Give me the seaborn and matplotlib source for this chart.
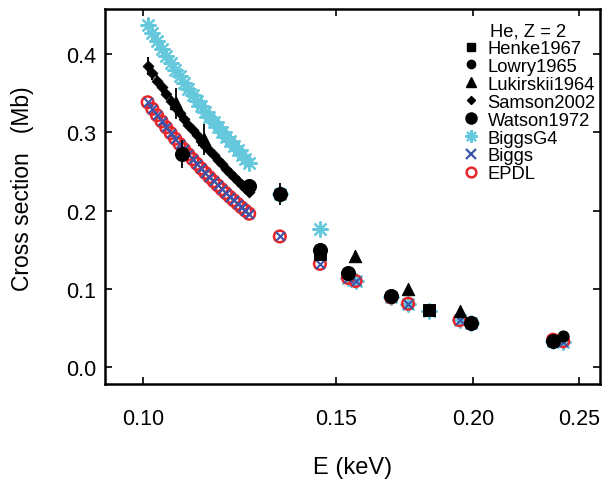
import numpy as np
import pandas as pd
import matplotlib
matplotlib.use("Agg")
import matplotlib.pyplot as plt
from matplotlib.ticker import FixedLocator, NullLocator, FormatStrFormatter
from matplotlib.lines import Line2D
import seaborn as sns

# dense energy grid of the calculated / Samson curves (keV)
e_dense = [0.101, 0.102, 0.103, 0.104, 0.105, 0.106, 0.107, 0.108, 0.109, 0.110,
           0.111, 0.112, 0.113, 0.114, 0.115, 0.116, 0.117, 0.118, 0.119, 0.120,
           0.121, 0.122, 0.123, 0.124, 0.125]

# cross sections (Mb)
epdl_dense = [0.3385, 0.3301, 0.3219, 0.3141, 0.3065, 0.2991, 0.2920, 0.2852, 0.2785, 0.2721,
              0.2658, 0.2598, 0.2539, 0.2483, 0.2428, 0.2375, 0.2323, 0.2273, 0.2224, 0.2177,
              0.2131, 0.2087, 0.2043, 0.2001, 0.1961]
g4_dense = [0.4370, 0.4267, 0.4168, 0.4072, 0.3979, 0.3890, 0.3803, 0.3718, 0.3637, 0.3557,
            0.3481, 0.3406, 0.3334, 0.3264, 0.3196, 0.3130, 0.3066, 0.3004, 0.2943, 0.2884,
            0.2827, 0.2771, 0.2717, 0.2664, 0.2614]
samson = [0.3850, 0.3755, 0.3663, 0.3574, 0.3488, 0.3405, 0.3325, 0.3247, 0.3172, 0.3100,
          0.3029, 0.2961, 0.2895, 0.2831, 0.2769, 0.2708, 0.2650, 0.2593, 0.2538, 0.2484,
          0.2432, 0.2382, 0.2333, 0.2285, 0.2240]
samson_err = [0.012, 0.008, 0.007, 0.007, 0.006, 0.006, 0.006, 0.006, 0.006, 0.006,
              0.006, 0.006, 0.006, 0.006, 0.006, 0.006, 0.006, 0.006, 0.006, 0.006,
              0.006, 0.006, 0.006, 0.006, 0.006]

# discrete energies of the tabulated libraries
e_lib = [0.1333, 0.1450, 0.1538, 0.1563, 0.1684, 0.1745, 0.1824, 0.1944, 0.1992, 0.2366, 0.2417]
epdl_lib = [0.167, 0.132, 0.114, 0.110, 0.089, 0.081, np.nan, 0.060, 0.056, 0.035, 0.033]
biggs_lib = [0.167, 0.132, 0.114, 0.110, 0.089, 0.081, 0.072, 0.060, 0.056, 0.034, 0.032]
g4_lib = [0.221, 0.177, 0.114, 0.110, 0.089, 0.081, 0.072, 0.060, 0.056, 0.034, 0.032]

henke_e = [0.1450, 0.1824]
henke = [0.144, 0.073]
lowry_e = [0.1450, 0.2417]
lowry = [0.147, 0.040]
luk_e = [0.1072, 0.1137, 0.1561, 0.1745, 0.1944]
luk = [0.337, 0.291, 0.142, 0.100, 0.072]
luk_err = [0.020, 0.020, 0.006, 0.004, 0.003]
watson_e = [0.1085, 0.1250, 0.1333, 0.1450, 0.1538, 0.1684, 0.1992, 0.2366]
watson = [0.272, 0.232, 0.221, 0.150, 0.120, 0.091, 0.057, 0.033]
watson_err = [0.018, 0.006, 0.014, 0.004, 0.003, 0.002, 0.002, 0.002]

labels = ["Henke1967", "Lowry1965", "Lukirskii1964", "Samson2002", "Watson1972",
          "BiggsG4", "Biggs", "EPDL"]

cyan = "#66c8dc"
blue = "#3a55aa"
red = "#e8262a"

biggs_e = e_dense + e_lib
biggs_y = epdl_dense + biggs_lib
epdl_e = e_dense + e_lib
epdl_y = epdl_dense + epdl_lib
g4_e = e_dense + e_lib
g4_y = g4_dense + g4_lib

sns.set_style("ticks")
plt.rcParams["font.family"] = ["Liberation Sans", "DejaVu Sans"]
plt.rcParams["text.color"] = "black"
plt.rcParams["axes.labelcolor"] = "black"

fig = plt.figure(figsize=(6.02, 4.85), dpi=100)
ax = fig.add_axes([0.174, 0.206, 0.823, 0.773])

# calculated libraries
sns.scatterplot(x=g4_e, y=g4_y, ax=ax, marker=(8, 2, 0), s=110, color=cyan,
                linewidth=1.6, edgecolor=cyan, zorder=2)
sns.scatterplot(x=epdl_e, y=epdl_y, ax=ax, marker="o", s=70, facecolor="none",
                edgecolor=red, linewidth=1.8, zorder=3)
sns.scatterplot(x=biggs_e, y=biggs_y, ax=ax, marker="x", s=40, color=blue,
                linewidth=1.5, zorder=4)

# experiments
ax.errorbar(e_dense, samson, yerr=samson_err, fmt="none", ecolor="black", elinewidth=1.4, zorder=5)
sns.scatterplot(x=e_dense, y=samson, ax=ax, marker="D", s=32, color="black",
                edgecolor="black", zorder=5)
ax.errorbar(luk_e, luk, yerr=luk_err, fmt="none", ecolor="black", elinewidth=1.3, zorder=6)
sns.scatterplot(x=luk_e, y=luk, ax=ax, marker="^", s=80, color="black",
                edgecolor="black", zorder=6)
ax.errorbar(watson_e, watson, yerr=watson_err, fmt="none", ecolor="black", elinewidth=1.3, zorder=6)
sns.scatterplot(x=watson_e, y=watson, ax=ax, marker="o", s=100, color="black",
                edgecolor="black", zorder=6)
sns.scatterplot(x=henke_e, y=henke, ax=ax, marker="s", s=70, color="black",
                edgecolor="black", zorder=6)
sns.scatterplot(x=lowry_e, y=lowry, ax=ax, marker="o", s=65, color="black",
                edgecolor="black", zorder=7)

ax.set_xscale("log")
ax.set_xlim(0.0923, 0.2612)
ax.set_ylim(-0.0217, 0.4575)
ax.xaxis.set_major_locator(FixedLocator([0.10, 0.15, 0.20, 0.25]))
ax.xaxis.set_major_formatter(FormatStrFormatter("%.2f"))
ax.xaxis.set_minor_locator(NullLocator())
ax.set_yticks([0.0, 0.1, 0.2, 0.3, 0.4])
ax.yaxis.set_major_formatter(FormatStrFormatter("%.1f"))
ax.tick_params(axis="both", direction="in", top=True, right=True, length=5, width=1.2,
               labelsize=15.5, colors="black")
ax.tick_params(axis="x", pad=17)
ax.tick_params(axis="y", pad=6)
for sp in ax.spines.values():
    sp.set_linewidth(1.8)
    sp.set_color("black")

ax.set_xlabel("E (keV)", fontsize=17, labelpad=20)
ax.set_ylabel("Cross section   (Mb)", fontsize=16.5)
ax.yaxis.set_label_coords(-0.143, 0.525)

# legend
handles = [
    Line2D([], [], ls="none", marker="s", ms=6, color="black"),
    Line2D([], [], ls="none", marker="o", ms=6, color="black"),
    Line2D([], [], ls="none", marker="^", ms=7.5, color="black"),
    Line2D([], [], ls="none", marker="D", ms=4, color="black"),
    Line2D([], [], ls="none", marker="o", ms=8, color="black"),
    Line2D([], [], ls="none", marker=(8, 2, 0), ms=9, color=cyan, mew=1.6),
    Line2D([], [], ls="none", marker="x", ms=7, color=blue, mew=1.6),
    Line2D([], [], ls="none", marker="o", ms=7, mfc="none", mec=red, mew=1.8),
]
leg = ax.legend(handles, labels, title="He, Z = 2", loc="upper right",
                bbox_to_anchor=(1.017, 1.0), frameon=False, fontsize=13.2,
                title_fontsize=13.2, handletextpad=0.3, labelspacing=0.05,
                handlelength=1.2, borderaxespad=0.3)

fig.savefig("out.png", dpi=100)
